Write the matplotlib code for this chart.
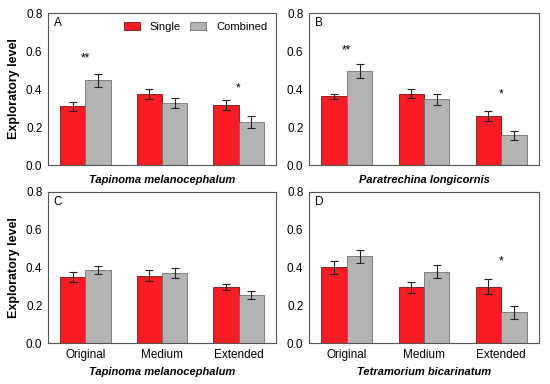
import numpy as np
import matplotlib.pyplot as plt
from matplotlib.patches import Patch

plt.rcParams['font.family'] = ['Liberation Sans', 'DejaVu Sans']

groups = ["Original", "Medium", "Extended"]
panels = ["A", "B", "C", "D"]
species = ["Tapinoma melanocephalum", "Paratrechina longicornis",
           "Tapinoma melanocephalum", "Tetramorium bicarinatum"]

# mean and SE per panel: single / combined
single = [[0.308, 0.373, 0.315],
          [0.362, 0.376, 0.257],
          [0.348, 0.357, 0.297],
          [0.401, 0.295, 0.299]]
single_err = [[0.022, 0.026, 0.026],
              [0.013, 0.025, 0.027],
              [0.027, 0.029, 0.017],
              [0.035, 0.029, 0.042]]
combined = [[0.445, 0.327, 0.225],
            [0.496, 0.345, 0.156],
            [0.385, 0.371, 0.253],
            [0.459, 0.378, 0.162]]
combined_err = [[0.035, 0.026, 0.032],
                [0.036, 0.031, 0.025],
                [0.022, 0.024, 0.021],
                [0.033, 0.033, 0.035]]
# significance marks: (panel, group, label, y)
stars = [(0, 0, "**", 0.56), (0, 2, "*", 0.405),
         (1, 0, "**", 0.605), (1, 2, "*", 0.37),
         (3, 2, "*", 0.43)]

red = "#F81C24"
grey = "#B3B3B3"

fig = plt.figure(figsize=(5.5, 3.84), dpi=100)
# axes boxes in pixels (left, top, right, bottom)
boxes = [(48, 13, 276, 165), (309, 13, 539, 165),
         (48, 192, 276, 343), (309, 192, 539, 343)]
label_y = [180, 180, 372, 372]
W, H = 550, 384

x = np.arange(len(groups))
w = 0.33
ekw = dict(ecolor="#222222", elinewidth=0.8, capsize=2.8, capthick=0.8)
axes = []
for i, (l, t, r, b) in enumerate(boxes):
    ax = fig.add_axes([l / W, 1 - b / H, (r - l) / W, (b - t) / H])
    axes.append(ax)
    ax.bar(x - w / 2, single[i], w, color=red, edgecolor="#7a1010", linewidth=0.6,
           yerr=single_err[i], error_kw=ekw)
    ax.bar(x + w / 2, combined[i], w, color=grey, edgecolor="#707070", linewidth=0.6,
           yerr=combined_err[i], error_kw=ekw)
    ax.set_xlim(-0.49, 2.49)
    ax.set_ylim(0, 0.8)
    ax.set_yticks([0, 0.2, 0.4, 0.6, 0.8])
    ax.set_yticklabels(["0.0", "0.2", "0.4", "0.6", "0.8"])
    ax.set_xticks(x)
    if i >= 2:
        ax.set_xticklabels(groups)
    else:
        ax.set_xticklabels([])
    ax.tick_params(axis="both", length=0, labelsize=8.5)
    ax.tick_params(axis="y", pad=4)
    ax.tick_params(axis="x", pad=4)
    for s in ax.spines.values():
        s.set_color("#555555")
        s.set_linewidth(0.8)
    ax.text(0.025, 0.975, panels[i], transform=ax.transAxes, fontsize=8.5, va="top", ha="left")
    fig.text((l + r) / 2 / W, 1 - label_y[i] / H, species[i], fontsize=8,
             fontweight="bold", style="italic", ha="center", va="center")
    if i % 2 == 0:
        ax.set_ylabel("Exploratory level", fontsize=9, fontweight="bold", labelpad=4)

for p, g, lab, y in stars:
    axes[p].text(g, y, lab, ha="center", va="center", fontsize=8.5)

handles = [Patch(facecolor=red, edgecolor="#7a1010", linewidth=0.6, label="Single"),
           Patch(facecolor=grey, edgecolor="#707070", linewidth=0.6, label="Combined")]
axes[0].legend(handles=handles, loc="upper right", ncol=2, frameon=False, fontsize=8,
               handlelength=1.45, handleheight=0.6, columnspacing=0.8, handletextpad=0.9,
               borderaxespad=0.4, bbox_to_anchor=(1.0, 1.0))

fig.savefig("out.png", dpi=100)
